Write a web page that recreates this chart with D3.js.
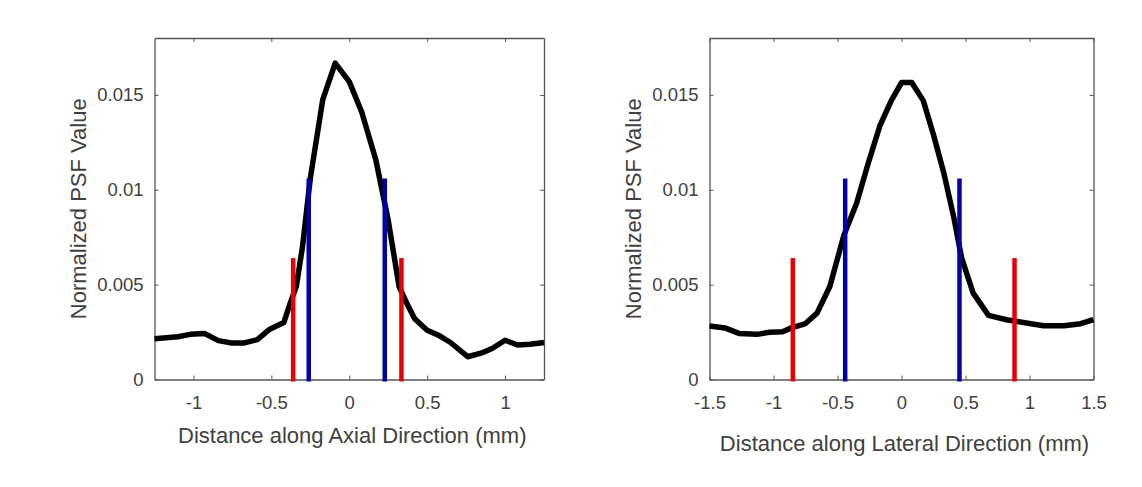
<!DOCTYPE html>
<html>
<head>
<meta charset="utf-8">
<script src="https://cdn.jsdelivr.net/npm/d3@7"></script>
<style>
  html, body { margin: 0; padding: 0; background: #fff; }
  svg { display: block; font-family: "Liberation Sans", Arial, sans-serif; }
</style>
</head>
<body>
<svg id="chart" width="1142" height="487"></svg>
<script>
// ---- data ----
const axialX = [-1.25, -1.10, -1.02, -0.93, -0.84, -0.76, -0.68, -0.59, -0.51, -0.42, -0.38, -0.34, -0.30, -0.25, -0.17, -0.09, 0.00, 0.08, 0.17, 0.25, 0.32, 0.37, 0.42, 0.50, 0.58, 0.65, 0.76, 0.85, 0.92, 1.00, 1.08, 1.16, 1.25];
const axialY = [0.00215, 0.00225, 0.00238, 0.00243, 0.00205, 0.00193, 0.00192, 0.00210, 0.00265, 0.00300, 0.00400, 0.00490, 0.00700, 0.01060, 0.01475, 0.01668, 0.01570, 0.01410, 0.01160, 0.00840, 0.00490, 0.00400, 0.00320, 0.00260, 0.00230, 0.00195, 0.00120, 0.00140, 0.00165, 0.00207, 0.00182, 0.00186, 0.00195];

const lateralX = [-1.50, -1.38, -1.27, -1.13, -1.03, -0.93, -0.86, -0.75, -0.66, -0.56, -0.45, -0.35, -0.26, -0.17, -0.08, 0.00, 0.08, 0.17, 0.25, 0.33, 0.41, 0.47, 0.56, 0.68, 0.82, 1.00, 1.11, 1.27, 1.40, 1.50];
const lateralY = [0.00282, 0.00272, 0.00243, 0.00238, 0.00249, 0.00252, 0.00272, 0.00295, 0.00350, 0.00490, 0.00760, 0.00930, 0.01140, 0.01335, 0.01470, 0.01565, 0.01565, 0.01470, 0.01290, 0.01090, 0.00850, 0.00640, 0.00455, 0.00338, 0.00315, 0.00295, 0.00283, 0.00283, 0.00294, 0.00315];

const axialRedX = [-0.36, 0.335];
const axialBlueX = [-0.26, 0.228];
const lateralRedX = [-0.849, 0.883];
const lateralBlueX = [-0.44, 0.453];
const redHeight = 0.0064;
const blueHeight = 0.0106;

const axialTicks = [-1, -0.5, 0, 0.5, 1];
const lateralTicks = [-1.5, -1, -0.5, 0, 0.5, 1, 1.5];
const yTicks = [0, 0.005, 0.01, 0.015];

const yLabel = "Normalized PSF Value";
const axialLabel = "Distance along Axial Direction (mm)";
const lateralLabel = "Distance along Lateral Direction (mm)";

// ---- drawing ----
const svg = d3.select("#chart");
const textColor = "#404040";
const axisColor = "#555555";

function panel(opts) {
  const { left, right, top, bottom, xDomain, xTicks, xs, ys, redX, blueX, xLabel, xLabelY } = opts;
  const x = d3.scaleLinear().domain(xDomain).range([left, right]);
  const y = d3.scaleLinear().domain([0, 0.018]).range([bottom, top]);
  const g = svg.append("g");
  const fmt = d => String(d);

  // axes
  const ax = g.append("g").attr("transform", `translate(0,${bottom})`)
    .call(d3.axisBottom(x).tickValues(xTicks).tickSize(-4).tickSizeOuter(0).tickPadding(16).tickFormat(fmt));
  const at = g.append("g").attr("transform", `translate(0,${top})`)
    .call(d3.axisTop(x).tickValues(xTicks).tickSize(-4).tickSizeOuter(0).tickFormat(""));
  const al = g.append("g").attr("transform", `translate(${left},0)`)
    .call(d3.axisLeft(y).tickValues(yTicks).tickSize(-4).tickSizeOuter(0).tickPadding(11).tickFormat(fmt));
  const ar = g.append("g").attr("transform", `translate(${right},0)`)
    .call(d3.axisRight(y).tickValues(yTicks).tickSize(-4).tickSizeOuter(0).tickFormat(""));
  [ax, at, al, ar].forEach(a => {
    a.selectAll("path.domain").attr("stroke", axisColor).attr("stroke-width", 1.3);
    a.selectAll(".tick line").attr("stroke", axisColor).attr("stroke-width", 1);
    a.selectAll("text").attr("fill", textColor).style("font-size", "18.5px")
      .style("font-family", '"Liberation Sans", Arial, sans-serif');
  });

  // curve
  const pts = xs.map((v, i) => [v, ys[i]]);
  g.append("path")
    .datum(pts)
    .attr("fill", "none")
    .attr("stroke", "#000")
    .attr("stroke-width", 5.5)
    .attr("stroke-linejoin", "round")
    .attr("stroke-linecap", "butt")
    .attr("d", d3.line().x(d => x(d[0])).y(d => y(d[1])));

  // marker lines
  g.selectAll(".red").data(redX).enter().append("line")
    .attr("x1", d => x(d)).attr("x2", d => x(d))
    .attr("y1", y(0) + 2).attr("y2", y(redHeight))
    .attr("stroke", "#e80000").attr("stroke-width", 4.5);
  g.selectAll(".blue").data(blueX).enter().append("line")
    .attr("x1", d => x(d)).attr("x2", d => x(d))
    .attr("y1", y(0) + 2).attr("y2", y(blueHeight))
    .attr("stroke", "#0000aa").attr("stroke-width", 4.5);

  // labels
  g.append("text")
    .attr("x", (left + right) / 2 + 3).attr("y", xLabelY)
    .attr("text-anchor", "middle").attr("fill", textColor)
    .style("font-size", "22px").text(xLabel);
  g.append("text")
    .attr("transform", `translate(${left - 69},${(top + bottom) / 2}) rotate(-90)`)
    .attr("text-anchor", "middle").attr("fill", textColor)
    .style("font-size", "22px").text(yLabel);
}

panel({ left: 154.5, right: 544, top: 38, bottom: 379.5, xDomain: [-1.25, 1.25], xTicks: axialTicks,
        xs: axialX, ys: axialY, redX: axialRedX, blueX: axialBlueX, xLabel: axialLabel, xLabelY: 443 });
panel({ left: 709.5, right: 1093.5, top: 38, bottom: 379.5, xDomain: [-1.5, 1.5], xTicks: lateralTicks,
        xs: lateralX, ys: lateralY, redX: lateralRedX, blueX: lateralBlueX, xLabel: lateralLabel, xLabelY: 451 });
</script>
</body>
</html>
